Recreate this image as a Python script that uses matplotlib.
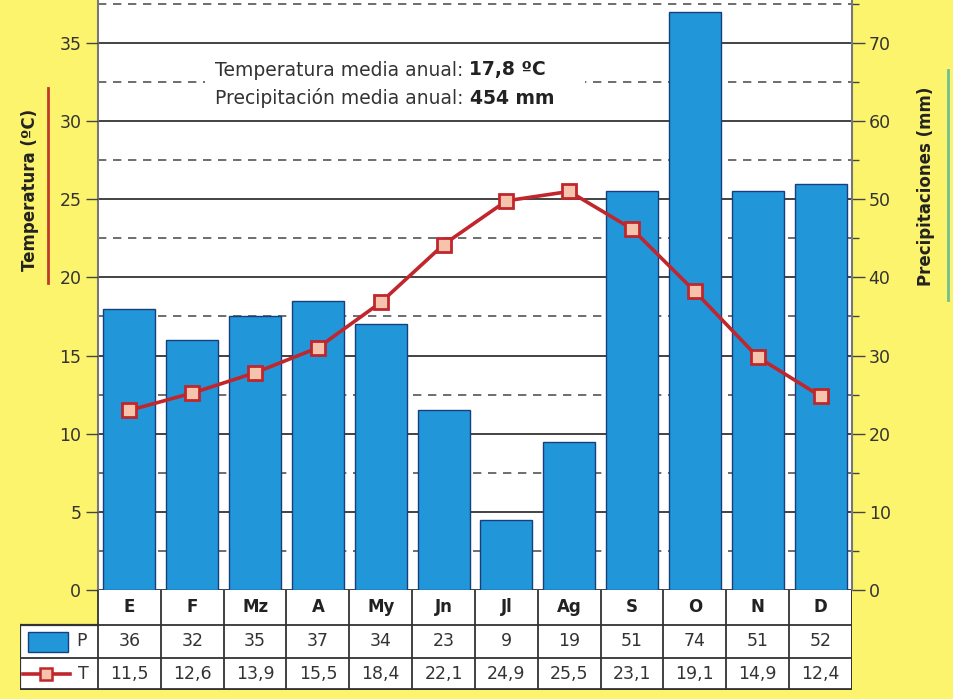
import matplotlib
matplotlib.use("Agg")
import matplotlib.pyplot as plt
from matplotlib.patches import Rectangle
from matplotlib.lines import Line2D

months = ["E", "F", "Mz", "A", "My", "Jn", "Jl", "Ag", "S", "O", "N", "D"]
precip = [36, 32, 35, 37, 34, 23, 9, 19, 51, 74, 51, 52]
temp = [11.5, 12.6, 13.9, 15.5, 18.4, 22.1, 24.9, 25.5, 23.1, 19.1, 14.9, 12.4]
temp_labels = ["11,5", "12,6", "13,9", "15,5", "18,4", "22,1", "24,9", "25,5", "23,1", "19,1", "14,9", "12,4"]
temp_ticks = [0, 5, 10, 15, 20, 25, 30, 35]
precip_ticks = [0, 10, 20, 30, 40, 50, 60, 70]
mean_temp = "17,8 ºC"
mean_precip = "454 mm"

W, H = 954, 699
BG = "#fdf46e"
BAR = "#2197d9"
BAR_EDGE = "#173f7c"
LINE = "#c0262c"
TXT = "#333333"

plt.rcParams['font.family'] = ['DejaVu Sans']
fig = plt.figure(figsize=(W / 100, H / 100), dpi=100, facecolor=BG)

L, R, B, T = 98, 852, 590, 0
axb = fig.add_axes([L / W, 1 - B / H, (R - L) / W, (B - T) / H])
axb.set_xlim(-0.5, 11.5)
axb.set_ylim(0, 75.5)
axb.set_facecolor("white")

# grid (on bar axes, below bars)
axb.set_yticks(precip_ticks)
axb.set_yticks([v + 5 for v in precip_ticks], minor=True)
axb.set_axisbelow(True)
axb.grid(True, which="major", axis="y", color="#222222", lw=1.2, ls="-")
axb.grid(True, which="minor", axis="y", color="#555555", lw=1.2, ls=(0, (5, 4)))
x = list(range(len(months)))
axb.bar(x, precip, width=0.83, color=BAR, edgecolor=BAR_EDGE, lw=1.0, zorder=2)
axb.yaxis.tick_right()
axb.tick_params(axis="y", which="major", direction="out", length=9, width=1, color="#444444",
                labelsize=12.5, labelcolor=TXT, pad=3)
axb.tick_params(axis="y", which="minor", direction="out", length=5, width=1, color="#444444")
axb.set_xticks([])
for s in ["top", "bottom"]:
    axb.spines[s].set_visible(False)
for s in ["left", "right"]:
    axb.spines[s].set_color("#777777")
    axb.spines[s].set_linewidth(1.5)

# temperature axes on top
axt = fig.add_axes(axb.get_position(), sharex=axb)
axt.patch.set_visible(False)
axt.set_ylim(0, 37.75)
axt.set_yticks(temp_ticks)
axt.tick_params(axis="y", which="major", direction="out", length=9, width=1, color="#444444",
                labelsize=12.5, labelcolor=TXT, pad=3)
axt.tick_params(axis="x", bottom=False, labelbottom=False)
for s in axt.spines.values():
    s.set_visible(False)
axt.plot(x, temp, color=LINE, lw=2.6, marker="s", markersize=10.5,
         markerfacecolor="#f6c3ad", markeredgecolor=LINE, markeredgewidth=2.0, zorder=5)

# info box
axt.add_patch(Rectangle((0.142, 0.810), 0.504, 0.106, transform=axt.transAxes,
                        facecolor="white", edgecolor="none", zorder=3))
t1 = axt.text((215 - L) / (R - L), 1 - 70 / B, "Temperatura media anual: ", transform=axt.transAxes,
              fontsize=13.5, color=TXT, va="center", ha="left", zorder=4)
axt.annotate(mean_temp, xy=(1, 0), xycoords=t1, va="bottom", ha="left", fontsize=13.5,
             fontweight="bold", color="#222222", zorder=4)
t2 = axt.text((215 - L) / (R - L), 1 - 98 / B, "Precipitación media anual: ", transform=axt.transAxes,
              fontsize=13.5, color=TXT, va="center", ha="left", zorder=4)
axt.annotate(mean_precip, xy=(1, 0), xycoords=t2, va="bottom", ha="left", fontsize=13.5,
             fontweight="bold", color="#222222", zorder=4)

# axis titles with colored bars
fig.text(30 / W, 1 - 190 / H, "Temperatura (ºC)", rotation=90, ha="center", va="center",
         fontsize=12, fontweight="bold", color="#222222")
fig.add_artist(Line2D([48 / W, 48 / W], [1 - 88 / H, 1 - 283 / H], color="#c0392b", lw=2))
fig.text(926 / W, 1 - 186 / H, "Precipitaciones (mm)", rotation=90, ha="center", va="center",
         fontsize=12, fontweight="bold", color="#222222")
fig.add_artist(Line2D([948 / W, 948 / W], [1 - 70 / H, 1 - 300 / H], color="#6fbf94", lw=2))

# data table below
TL, TT, TB = 20, 590, 690
tax = fig.add_axes([TL / W, 1 - TB / H, (R - TL) / W, (TB - TT) / H])
colw = (R - L) / 12.0
x0 = -0.5 - (L - TL) / colw
tax.set_xlim(x0, 11.5)
tax.set_ylim(100, 0)
tax.axis("off")
r1, r2 = 35, 68  # row boundaries (pixels from table top)
tax.add_patch(Rectangle((-0.5, 0), 12, r1, facecolor="white", edgecolor="none"))
tax.add_patch(Rectangle((x0, r1), 11.5 - x0, 100 - r1, facecolor="white", edgecolor="none"))
lc = "#333333"
for xv in [i - 0.5 for i in range(13)]:
    tax.plot([xv, xv], [0, 100], color=lc, lw=1.3)
tax.plot([x0, x0], [r1, 100], color=lc, lw=1.6)
tax.plot([-0.5, 11.5], [r1, r1], color=lc, lw=1.3)
tax.plot([x0, -0.5], [r1, r1], color=lc, lw=1.6)
tax.plot([x0, 11.5], [r2, r2], color=lc, lw=1.3)
tax.plot([x0, 11.5], [99, 99], color=lc, lw=2)
tax.plot([11.5, 11.5], [0, 100], color=lc, lw=2)
for i, m in enumerate(months):
    tax.text(i, r1 / 2, m, ha="center", va="center", fontsize=12, fontweight="bold", color="#222222")
    tax.text(i, (r1 + r2) / 2, str(precip[i]), ha="center", va="center", fontsize=12.5, color=TXT)
    tax.text(i, (r2 + 100) / 2, temp_labels[i], ha="center", va="center", fontsize=12.5, color=TXT)
# legend keys
px = lambda p: x0 + (p - TL) / colw
tax.add_patch(Rectangle((px(28), r1 + 7), px(68) - px(28), 20, facecolor=BAR, edgecolor=BAR_EDGE, lw=1))
tax.text(px(76), (r1 + r2) / 2, "P", ha="left", va="center", fontsize=12.5, color=TXT)
tax.plot([px(23), px(70)], [(r2 + 100) / 2] * 2, color=LINE, lw=2.6)
tax.plot([px(46)], [(r2 + 100) / 2], marker="s", markersize=8, color=LINE,
         markerfacecolor="#f6c3ad", markeredgewidth=1.8)
tax.text(px(78), (r2 + 100) / 2, "T", ha="left", va="center", fontsize=12.5, color=TXT)

fig.savefig("out.png", dpi=100, facecolor=BG)
